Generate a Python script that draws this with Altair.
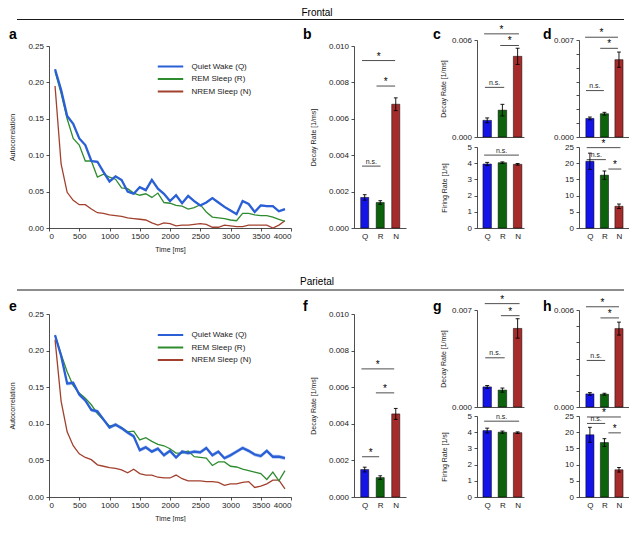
import altair as alt
import pandas as pd

FONT = "Liberation Sans"

# ---------------- data ----------------
TIME = [100, 200, 300, 400, 500, 600, 700, 800, 900, 1000,
        1100, 1200, 1300, 1400, 1500, 1600, 1700, 1800, 1900, 2000,
        2100, 2200, 2300, 2400, 2500, 2600, 2700, 2800, 2900, 3000,
        3100, 3200, 3300, 3400, 3500, 3600, 3700, 3800, 3900]
X_TICKS = [0, 500, 1000, 1500, 2000, 2500, 3000, 3500, 4000]
Y_TICKS_AC = [0.0, 0.05, 0.10, 0.15, 0.20, 0.25]

STATE_NAMES = ["Quiet Wake (Q)", "REM Sleep (R)", "NREM Sleep (N)"]
STATES = ["Q", "R", "N"]
POS = [0, 1, 2]

# Frontal autocorrelation
F_Q = [0.218, 0.190, 0.154, 0.143, 0.123, 0.114, 0.092, 0.091, 0.077, 0.064,
       0.071, 0.066, 0.050, 0.047, 0.056, 0.052, 0.066, 0.054, 0.047, 0.037,
       0.045, 0.034, 0.044, 0.037, 0.031, 0.035, 0.041, 0.035, 0.029, 0.024,
       0.019, 0.037, 0.033, 0.022, 0.031, 0.030, 0.030, 0.023, 0.026]
F_R = [0.215, 0.185, 0.150, 0.123, 0.114, 0.092, 0.092, 0.070, 0.074, 0.070,
       0.067, 0.055, 0.054, 0.048, 0.045, 0.047, 0.042, 0.048, 0.035, 0.034,
       0.031, 0.030, 0.026, 0.028, 0.032, 0.022, 0.015, 0.014, 0.013, 0.011,
       0.010, 0.020, 0.020, 0.018, 0.017, 0.017, 0.015, 0.012, 0.009]
F_N = [0.195, 0.088, 0.049, 0.038, 0.032, 0.032, 0.026, 0.021, 0.020, 0.018,
       0.017, 0.016, 0.014, 0.013, 0.012, 0.011, 0.007, 0.004, 0.007, 0.006,
       0.003, 0.004, 0.004, 0.005, 0.006, 0.005, 0.001, 0.001, 0.004, 0.003,
       0.002, 0.002, 0.004, 0.004, 0.004, 0.004, 0.000, 0.004, 0.010]
F_Q_SEM = 0.0015

# Parietal autocorrelation
P_Q = [0.221, 0.193, 0.155, 0.156, 0.140, 0.132, 0.119, 0.117, 0.106, 0.095,
       0.099, 0.094, 0.088, 0.083, 0.064, 0.068, 0.062, 0.066, 0.057, 0.063,
       0.054, 0.062, 0.060, 0.062, 0.061, 0.067, 0.057, 0.062, 0.053, 0.057,
       0.062, 0.067, 0.063, 0.058, 0.056, 0.063, 0.055, 0.055, 0.053]
P_R = [0.221, 0.195, 0.171, 0.152, 0.142, 0.135, 0.126, 0.114, 0.105, 0.097,
       0.098, 0.095, 0.089, 0.090, 0.078, 0.081, 0.076, 0.072, 0.070, 0.066,
       0.060, 0.060, 0.063, 0.055, 0.054, 0.053, 0.043, 0.048, 0.048, 0.042,
       0.041, 0.038, 0.036, 0.034, 0.032, 0.024, 0.034, 0.022, 0.036]
P_N = [0.215, 0.131, 0.089, 0.070, 0.059, 0.054, 0.051, 0.044, 0.042, 0.040,
       0.039, 0.037, 0.033, 0.038, 0.032, 0.030, 0.030, 0.027, 0.026, 0.026,
       0.030, 0.025, 0.022, 0.022, 0.022, 0.021, 0.021, 0.020, 0.016, 0.018,
       0.018, 0.020, 0.021, 0.013, 0.015, 0.018, 0.023, 0.023, 0.011]
P_Q_SEM = 0.0026

# Bar values (mean, error) for Q, R, N
B_F = [0.00168, 0.00140, 0.0068]
B_F_ERR = [0.00015, 0.00010, 0.00035]
C_F_DR = [0.00103, 0.00166, 0.00499]
C_F_DR_ERR = [0.00015, 0.00036, 0.00050]
C_F_FR = [3.95, 4.03, 3.93]
C_F_FR_ERR = [0.10, 0.05, 0.05]
D_F_DR = [0.00134, 0.00168, 0.00558]
D_F_DR_ERR = [0.00010, 0.00010, 0.00055]
D_F_FR = [20.6, 16.3, 6.7]
D_F_FR_ERR = [2.5, 1.3, 0.7]

B_P = [0.00150, 0.00106, 0.00454]
B_P_ERR = [0.00013, 0.00010, 0.00030]
G_P_DR = [0.00145, 0.00122, 0.00567]
G_P_DR_ERR = [0.00010, 0.00015, 0.00070]
G_P_FR = [4.10, 4.00, 3.97]
G_P_FR_ERR = [0.15, 0.07, 0.05]
H_P_DR = [0.00081, 0.00079, 0.00485]
H_P_DR_ERR = [0.00008, 0.00006, 0.00040]
H_P_FR = [19.2, 16.8, 8.4]
H_P_FR_ERR = [2.3, 1.2, 0.7]

# significance annotations: (from, to, height, label)
ANN_B_F = [(-0.17, 1.96, 0.0092, "*"), (0.76, 1.96, 0.0078, "*"), (-0.17, 1.02, 0.0034, "n.s.")]
ANN_C_F_DR = [(-0.2, 2.09, 0.00638, "*"), (0.86, 2.09, 0.00566, "*"), (-0.15, 1.12, 0.00307, "n.s.")]
ANN_C_F_FR = [(-0.2, 2.09, 4.5, "n.s.")]
ANN_D_F_DR = [(-0.33, 1.93, 0.0072, "*"), (0.71, 1.93, 0.0064, "*"), (-0.27, 0.96, 0.00335, "n.s.")]
ANN_D_F_FR = [(-0.22, 2.1, 24.8, "*"), (-0.22, 1.1, 21.1, "n.s."), (1.27, 2.16, 18.2, "*")]

ANN_B_P = [(-0.21, 1.9, 0.0070, "*"), (0.72, 1.9, 0.00569, "*"), (-0.17, 0.93, 0.0022, "*")]
ANN_G_P_DR = [(-0.16, 2.13, 0.00746, "*"), (0.9, 2.13, 0.00659, "*"), (-0.13, 1.15, 0.00355, "n.s.")]
ANN_G_P_FR = [(-0.2, 2.1, 4.68, "n.s.")]
ANN_H_P_DR = [(-0.27, 2.0, 0.0062, "*"), (0.73, 2.0, 0.00551, "*"), (-0.22, 1.05, 0.00288, "n.s.")]
ANN_H_P_FR = [(-0.2, 2.13, 24.7, "*"), (-0.2, 1.05, 22.7, "n.s."), (1.27, 2.13, 19.8, "*")]

SECTION_TITLES = ["Frontal", "Parietal"]
LETTERS = ["a", "b", "c", "d", "e", "f", "g", "h"]

LINE_COLORS = ["#2a5fd6", "#2e8c2e", "#a2402e"]
BAND_COLOR = "#a9c3f0"
BAR_COLORS = ["#1414e6", "#0c630c", "#a62b2b"]
TXT = "#222222"

# ---------------- layout (pixels in the drawing area) ----------------
W, H = 580, 489
XR = {"a": [0, 242], "b": [305, 357], "c": [428, 475], "d": [530, 580]}
ROW = [
    {"big": [220, 38], "top": [129, 32], "bot": [220, 139], "xoff": 220 - H,
     "topx": 129 - H, "head_y": 0, "rule_y": 11.5, "let_y": 31, "leg_y": 53},
    {"big": [489, 306], "top": [399, 302], "bot": [489, 408], "xoff": 0,
     "topx": 399 - H, "head_y": 269, "rule_y": 282, "let_y": 303, "leg_y": 321.5},
]
LET_X = [-40, 254, 384, 494]

B_XDOM = [-0.69, 2.66]
C_XDOM = [-0.67, 2.42]
D_XDOM = [-0.75, 2.69]

B_YVALS = [0.0, 0.002, 0.004, 0.006, 0.008, 0.010]
C6_YVALS = [0.0, 0.006]
D7_YVALS = [0.0, 0.001, 0.002, 0.003, 0.004, 0.005, 0.006, 0.007]
G7_YVALS = [0.0, 0.007]
H6_YVALS = [0.0, 0.001, 0.002, 0.003, 0.004, 0.005, 0.006]
FR_YVALS = [0, 1, 2, 3, 4, 5]
FR25_YVALS = [0, 5, 10, 15, 20, 25]


def line_panel(q, r, n, q_sem, lay):
    rows = []
    for name, vals in [(STATE_NAMES[2], n), (STATE_NAMES[1], r), (STATE_NAMES[0], q)]:
        for t, v in zip(TIME, vals):
            rows.append({"t": t, "v": v, "state": name})
    df = pd.DataFrame(rows)
    band_df = pd.DataFrame({"t": TIME, "v": q})

    xs = alt.Scale(domain=[0, 4000], range=XR["a"], nice=False)
    ys = alt.Scale(domain=[0, 0.25], range=lay["big"], nice=False)
    xaxis = alt.Axis(values=X_TICKS, format="d", title="Time [ms]", titlePadding=5,
                     labelPadding=1.5, tickSize=3, orient="bottom", offset=lay["xoff"])
    yaxis = alt.Axis(values=Y_TICKS_AC, format=".2f", title="Autocorrelation",
                     titlePadding=12, labelPadding=2.5, tickSize=3, orient="left", offset=0)

    band = alt.Chart(band_df).transform_calculate(
        lo=f"datum.v - {q_sem}", hi=f"datum.v + {q_sem}"
    ).mark_area(color=BAND_COLOR, opacity=0.9).encode(
        x=alt.X("t:Q", scale=xs, axis=xaxis),
        y=alt.Y("lo:Q", scale=ys, axis=yaxis),
        y2="hi:Q",
    )
    lines = alt.Chart(df).mark_line().encode(
        x=alt.X("t:Q", scale=xs, axis=xaxis),
        y=alt.Y("v:Q", scale=ys, axis=yaxis),
        color=alt.Color("state:N", scale=alt.Scale(domain=STATE_NAMES, range=LINE_COLORS),
                        legend=alt.Legend(orient="none", legendX=116, legendY=lay["leg_y"],
                                          title=None, symbolType="M-3,0L3,0", symbolSize=72,
                                          symbolStrokeWidth=2, labelFontSize=8,
                                          labelOffset=15.5, labelColor=TXT, rowPadding=2.5)),
        strokeWidth=alt.condition(alt.datum.state == STATE_NAMES[0], alt.value(2.3), alt.value(1.3)),
        detail="state:N",
    )
    return alt.layer(band, lines)


def bar_panel(vals, errs, ann, ydom, yrange, yvals, ylabel_expr, ytitle, ytitle_pad,
              xdom, xrange, xlabels, xoff, half=0.27, cap=0.13):
    df = pd.DataFrame({"pos": POS, "state": STATES, "v": vals, "e": errs})
    base = alt.Chart(df).transform_calculate(
        lo="datum.v - datum.e", hi="datum.v + datum.e",
        x1=f"datum.pos - {half}", x2=f"datum.pos + {half}",
        c1=f"datum.pos - {cap}", c2=f"datum.pos + {cap}",
    )
    xs = alt.Scale(domain=xdom, range=xrange, nice=False, zero=False)
    ys = alt.Scale(domain=ydom, range=yrange, nice=False, zero=False)
    label_expr = "[" + ",".join(f"'{s}'" for s in STATES) + "][round(datum.value)]"
    if xlabels:
        xaxis = alt.Axis(values=POS, labelExpr=label_expr, ticks=False, title=None,
                         labelPadding=4, labelFontSize=8, orient="bottom", offset=xoff)
    else:
        xaxis = alt.Axis(values=POS, labels=False, ticks=False, title=None,
                         orient="bottom", offset=xoff)
    yaxis = alt.Axis(values=yvals, labelExpr=ylabel_expr, title=ytitle,
                     titlePadding=ytitle_pad, labelPadding=2.5, tickSize=3,
                     orient="left", offset=-xrange[0])

    X = lambda f: alt.X(f, scale=xs, axis=xaxis)
    Y = lambda f: alt.Y(f, scale=ys, axis=yaxis)

    bars = base.mark_rect(stroke="black", strokeWidth=0.5).encode(
        x=X("x1:Q"), x2="x2:Q", y=Y("v:Q"), y2=alt.Y2Datum(0),
        fill=alt.Fill("state:N", scale=alt.Scale(domain=STATES, range=BAR_COLORS), legend=None),
    )
    err = base.mark_rule(color="black", strokeWidth=0.9).encode(x=X("pos:Q"), y=Y("lo:Q"), y2="hi:Q")
    cap_hi = base.mark_rule(color="black", strokeWidth=0.9).encode(x=X("c1:Q"), x2="c2:Q", y=Y("hi:Q"))
    cap_lo = base.mark_rule(color="black", strokeWidth=0.9).encode(x=X("c1:Q"), x2="c2:Q", y=Y("lo:Q"))

    adf = pd.DataFrame(ann, columns=["a1", "a2", "h", "label"])
    abase = alt.Chart(adf).transform_calculate(am="(datum.a1 + datum.a2) / 2")
    arule = abase.mark_rule(color="black", strokeWidth=0.7).encode(x=X("a1:Q"), x2="a2:Q", y=Y("h:Q"))
    star = abase.transform_filter("datum.label == '*'").mark_text(
        fontSize=10, dy=-1, baseline="alphabetic", color="black", font=FONT
    ).encode(x=X("am:Q"), y=Y("h:Q"), text="label:N")
    ns = abase.transform_filter("datum.label != '*'").mark_text(
        fontSize=7, dy=-2.5, baseline="alphabetic", color=TXT, font=FONT
    ).encode(x=X("am:Q"), y=Y("h:Q"), text="label:N")

    return alt.layer(bars, err, cap_hi, cap_lo, arule, star, ns)


def fmt_all(fmt):
    return f"format(datum.value, '{fmt}')"


def fmt_ends(fmt, top):
    return f"(datum.value < 1e-9 || datum.value > {top} - 1e-9) ? format(datum.value, '{fmt}') : ''"


def texts(section, letters, lay):
    hdf = pd.DataFrame({"label": [section]})
    head = alt.Chart(hdf).mark_text(fontSize=10, baseline="top", align="center", font=FONT,
                                    color="black").encode(
        text="label:N", x=alt.value(268), y=alt.value(lay["head_y"]))
    rule = alt.Chart(hdf).mark_rule(color="black", strokeWidth=0.9).encode(
        x=alt.value(-32), x2=alt.value(575), y=alt.value(lay["rule_y"]))
    out = [head, rule]
    for letter, lx in zip(letters, LET_X):
        ldf = pd.DataFrame({"label": [letter]})
        out.append(alt.Chart(ldf).mark_text(fontSize=14, fontWeight="bold", baseline="alphabetic",
                                            align="left", font=FONT, color="black").encode(
            text="label:N", x=alt.value(lx), y=alt.value(lay["let_y"])))
    return out


def row(section, letters, lp, bp, cdr, cfr, ddr, dfr, lay):
    q, r, n, sem = lp
    a = line_panel(q, r, n, sem, lay)
    b = bar_panel(bp[0], bp[1], bp[2], [0, 0.010], lay["big"], B_YVALS, fmt_all(".3f"),
                  "Decay Rate [1/ms]", 12, B_XDOM, XR["b"], True, lay["xoff"], half=0.26, cap=0.12)
    c_top = bar_panel(cdr[0], cdr[1], cdr[2], cdr[3], lay["top"], cdr[4], cdr[5],
                      "Decay Rate [1/ms]", 5, C_XDOM, XR["c"], False, lay["topx"], half=0.28)
    c_bot = bar_panel(cfr[0], cfr[1], cfr[2], [0, 5], lay["bot"], FR_YVALS, fmt_all("d"),
                      "Firing Rate [1/s]", 20, C_XDOM, XR["c"], True, lay["xoff"], half=0.28)
    d_top = bar_panel(ddr[0], ddr[1], ddr[2], ddr[3], lay["top"], ddr[4], ddr[5],
                      None, 5, D_XDOM, XR["d"], False, lay["topx"], half=0.28)
    d_bot = bar_panel(dfr[0], dfr[1], dfr[2], [0, 25], lay["bot"], FR25_YVALS, fmt_all("d"),
                      None, 5, D_XDOM, XR["d"], True, lay["xoff"], half=0.28)
    return [a, b, c_top, c_bot, d_top, d_bot] + texts(section, letters, lay)


layers = []
layers += row(SECTION_TITLES[0], LETTERS[:4], (F_Q, F_R, F_N, F_Q_SEM),
              (B_F, B_F_ERR, ANN_B_F),
              (C_F_DR, C_F_DR_ERR, ANN_C_F_DR, [0, 0.006], C6_YVALS, fmt_all(".3f")),
              (C_F_FR, C_F_FR_ERR, ANN_C_F_FR),
              (D_F_DR, D_F_DR_ERR, ANN_D_F_DR, [0, 0.007], D7_YVALS, fmt_ends(".3f", 0.007)),
              (D_F_FR, D_F_FR_ERR, ANN_D_F_FR), ROW[0])
layers += row(SECTION_TITLES[1], LETTERS[4:], (P_Q, P_R, P_N, P_Q_SEM),
              (B_P, B_P_ERR, ANN_B_P),
              (G_P_DR, G_P_DR_ERR, ANN_G_P_DR, [0, 0.007], G7_YVALS, fmt_all(".3f")),
              (G_P_FR, G_P_FR_ERR, ANN_G_P_FR),
              (H_P_DR, H_P_DR_ERR, ANN_H_P_DR, [0, 0.006], H6_YVALS, fmt_ends(".3f", 0.006)),
              (H_P_FR, H_P_FR_ERR, ANN_H_P_FR), ROW[1])

chart = alt.layer(*layers).resolve_scale(
    x="independent", y="independent", color="independent", fill="independent"
).resolve_axis(x="independent", y="independent").resolve_legend(
    color="independent"
).properties(width=W, height=H, padding=0).configure(font=FONT).configure_view(
    stroke=None
).configure_axis(
    grid=False, labelFont=FONT, titleFont=FONT, labelFontSize=8, titleFontSize=7,
    titleFontWeight="normal", labelColor=TXT, titleColor=TXT, domainColor="#222222",
    tickColor="#222222", domainWidth=0.8, tickWidth=0.8,
).configure_legend(labelFont=FONT)

chart.save("out.html", embed_options={"renderer": "svg", "actions": False})
